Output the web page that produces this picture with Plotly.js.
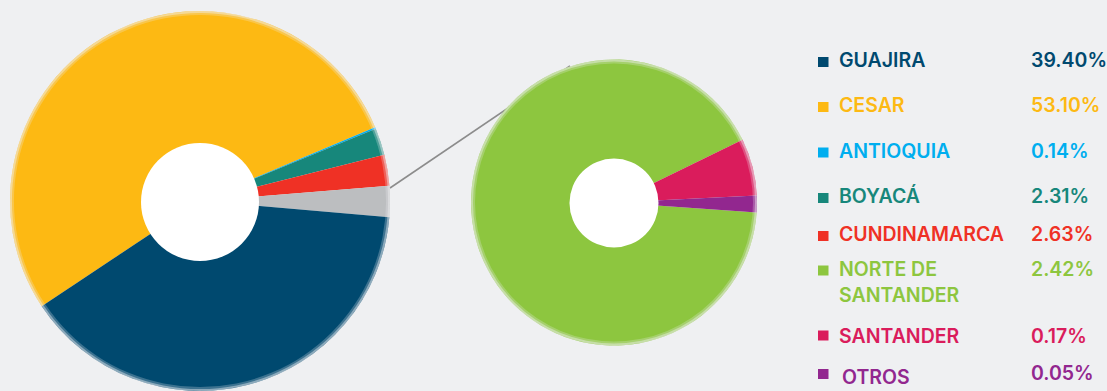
<!DOCTYPE html>
<html>
<head>
<meta charset="utf-8">
<script src="https://cdn.plot.ly/plotly-3.0.1.min.js"></script>
<style>html,body{margin:0;padding:0;background:#eff0f2;}#chart{width:1107px;height:391px;}</style>
</head>
<body>
<div id="chart"></div>
<script>
// ---- data ----
const regions = ['GUAJIRA', 'CESAR', 'ANTIOQUIA', 'BOYACÁ', 'CUNDINAMARCA', 'NORTE DE SANTANDER', 'SANTANDER', 'OTROS'];
const shares = [39.40, 53.10, 0.14, 2.31, 2.63, 2.42, 0.17, 0.05];
const colors = ['#00496f', '#fdb913', '#00aeef', '#17877b', '#ef3125', '#8dc63f', '#da1c5c', '#92278f'];
const groupColor = '#bcbec0';
// main pie order (clockwise): CESAR, ANTIOQUIA, BOYACÁ, CUNDINAMARCA, [rest], GUAJIRA
const mainOrder = [1, 2, 3, 4, 0];
const restIdx = [5, 6, 7];

// ---- geometry helpers (pixels) ----
const W = 1107, H = 391, BG = '#eff0f2';
const px = x => x / W;
const py = y => 1 - y / H;
function dom(cx, cy, r) { return {x: [px(cx - r), px(cx + r)], y: [py(cy + r), py(cy - r)]}; }

const L = {cx: 200, cy: 201, r: 190, hole: 59, hcy: 202};
const R = {cx: 614, cy: 202.5, r: 143, hole: 44.5, hcy: 203};

const restSum = restIdx.reduce((s, i) => s + shares[i], 0);
const mainLabels = mainOrder.slice(0, 4).map(i => regions[i]).concat(['OTROS (agrupado)', regions[0]]);
const mainValues = mainOrder.slice(0, 4).map(i => shares[i]).concat([restSum, shares[0]]);
const mainColors = mainOrder.slice(0, 4).map(i => colors[i]).concat([groupColor, colors[0]]);

const traces = [];
traces.push({
  type: 'pie', labels: mainLabels, values: mainValues, sort: false, direction: 'clockwise',
  rotation: -123.6, marker: {colors: mainColors, line: {width: 0}}, textinfo: 'none',
  hoverinfo: 'skip', domain: dom(L.cx, L.cy, L.r), showlegend: false
});
traces.push({
  type: 'pie', labels: restIdx.map(i => regions[i]), values: restIdx.map(i => shares[i]), sort: false,
  direction: 'clockwise', rotation: 94, marker: {colors: restIdx.map(i => colors[i]), line: {width: 0}},
  textinfo: 'none', hoverinfo: 'skip', domain: dom(R.cx, R.cy, R.r), showlegend: false
});
// soft edge rings
function ring(c, hole, alpha) {
  return {type: 'pie', labels: ['e'], values: [1], hole: hole, sort: false,
    marker: {colors: ['rgba(239,240,242,' + alpha + ')'], line: {width: 0}}, textinfo: 'none',
    hoverinfo: 'skip', domain: dom(c.cx, c.cy, c.r), showlegend: false};
}
[L, R].forEach(c => {
  traces.push(ring(c, (c.r - 4) / c.r, 0.25));
  traces.push(ring(c, (c.r - 2) / c.r, 0.45));
});
// white centers
[L, R].forEach(c => {
  traces.push({type: 'pie', labels: ['c'], values: [1], sort: false,
    marker: {colors: ['#ffffff'], line: {width: 0}}, textinfo: 'none', hoverinfo: 'skip',
    domain: dom(c.cx, c.hcy, c.hole), showlegend: false});
});

// ---- legend (annotations + squares) ----
const textY = [59.5, 104.5, 150.5, 195.5, 233.5, 269, 335.5, 376.5];
const pctY = [59.5, 104.5, 150.5, 195.5, 233.5, 269, 335.5, 372.5];
const sqTop = [57, 102, 147.5, 193, 231, 265.5, 330.5, 369];
const font = {family: 'Inter, "Open Sans", sans-serif', size: 19.5, weight: 600};
const annotations = [];
const shapes = [];
regions.forEach((name, i) => {
  const f = Object.assign({}, font, {color: colors[i]});
  if (name === 'NORTE DE SANTANDER') {
    annotations.push({xref: 'paper', yref: 'paper', x: px(838), y: py(textY[i]), xanchor: 'left', yanchor: 'middle', text: 'NORTE DE', showarrow: false, font: f, borderpad: 0});
    annotations.push({xref: 'paper', yref: 'paper', x: px(838), y: py(294.5), xanchor: 'left', yanchor: 'middle', text: 'SANTANDER', showarrow: false, font: f, borderpad: 0});
  } else {
    annotations.push({xref: 'paper', yref: 'paper', x: px(name === 'OTROS' ? 841 : 838), y: py(textY[i]), xanchor: 'left', yanchor: 'middle', text: name, showarrow: false, font: f, borderpad: 0});
  }
  annotations.push({xref: 'paper', yref: 'paper', x: px(1030), y: py(pctY[i]), xanchor: 'left', yanchor: 'middle', text: shares[i].toFixed(2) + '%', showarrow: false, font: f, borderpad: 0});
  shapes.push({type: 'rect', xref: 'paper', yref: 'paper', x0: px(818), x1: px(828.5), y0: py(sqTop[i] + 10), y1: py(sqTop[i]), fillcolor: colors[i], line: {width: 0}, layer: 'above'});
});
// connector line
shapes.push({type: 'line', xref: 'paper', yref: 'paper', x0: px(390), y0: py(188), x1: px(570), y1: py(66), line: {color: '#8c8c8c', width: 1.6}, layer: 'below'});

const layout = {
  width: W, height: H, margin: {l: 0, r: 0, t: 0, b: 0, pad: 0},
  paper_bgcolor: BG, plot_bgcolor: BG, showlegend: false,
  annotations: annotations, shapes: shapes
};
Plotly.newPlot('chart', traces, layout, {displayModeBar: false, staticPlot: true});
</script>
</body>
</html>
